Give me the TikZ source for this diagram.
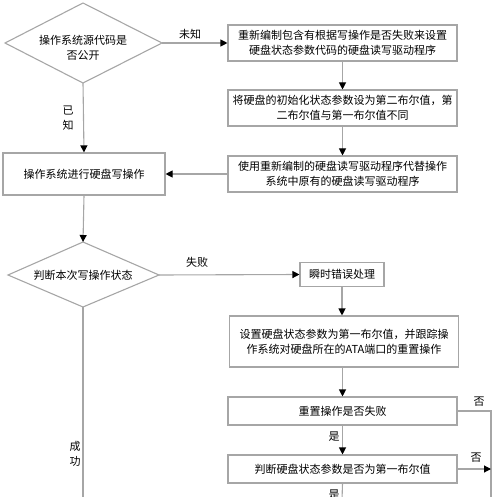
\documentclass[tikz,border=0pt]{standalone}
\usepackage{fontspec}
\newfontfamily\cjk{Noto Sans CJK SC}
\usetikzlibrary{arrows.meta,shapes.geometric}
\definecolor{ln}{HTML}{A6A6A6}
\tikzset{
  pbox/.style={draw=ln,line width=1.1pt,fill=white,inner sep=0pt,align=center,font=\cjk\fontsize{11pt}{15pt}\selectfont,text=black},
  lab/.style={font=\cjk\fontsize{11pt}{14.5pt}\selectfont,text=black,align=center,inner sep=0pt},
  conn/.style={draw=ln,line width=1.1pt},
  arr/.style={conn,-{Triangle[length=7pt,width=7pt,color=black]}}
}
\begin{document}
\begin{tikzpicture}[x=1pt,y=-1pt]
\useasboundingbox (0,0) rectangle (500,497);
\clip (0,0) rectangle (500,497);
% diamond 1
\draw[conn] (5,43) -- (83,3) -- (162,43) -- (83,83) -- cycle;
\node[lab] (d1) at (83,48) {操作系统源代码是\\否公开};
\coordinate (d1r) at (162,43);
\coordinate (d1b) at (83,83);
% right column boxes
\node[pbox,minimum width=229pt,minimum height=36pt] (b1) at (342.5,43) {重新编制包含有根据写操作是否失败来设置\\硬盘状态参数代码的硬盘读写驱动程序};
\node[pbox,minimum width=229pt,minimum height=36pt] (b2) at (342.5,108) {将硬盘的初始化状态参数设为第二布尔值，第\\二布尔值与第一布尔值不同};
\node[pbox,minimum width=229pt,minimum height=36pt] (b3) at (342.5,174) {使用重新编制的硬盘读写驱动程序代替操作\\系统中原有的硬盘读写驱动程序};
\node[pbox,minimum width=162pt,minimum height=42pt] (w) at (84,174) {操作系统进行硬盘写操作};
% diamond 2
\draw[conn] (8,275) -- (83,242) -- (159,275) -- (83,307) -- cycle;
\node[lab] (d2) at (83,275) {判断本次写操作状态};
\coordinate (d2t) at (83,242);
\coordinate (d2r) at (159,275);
\coordinate (d2b) at (83,307);
\node[pbox,minimum width=84pt,minimum height=24pt] (e) at (342,274.5) {瞬时错误处理};
\node[pbox,minimum width=229pt,minimum height=51pt] (s) at (344,341.5) {设置硬盘状态参数为第一布尔值，并跟踪操\\作系统对硬盘所在的ATA端口的重置操作};
\node[pbox,minimum width=229pt,minimum height=28pt] (r) at (342.5,411) {重置操作是否失败};
\node[pbox,minimum width=229pt,minimum height=28pt] (j) at (342.5,469) {判断硬盘状态参数是否为第一布尔值};
\coordinate (vr) at (491,411);
\coordinate (vj) at (491,469);
\coordinate (vbot) at (491,500);
\coordinate (jbot) at (342,500);
\coordinate (lbot) at (83,500);
% connectors
\draw[arr] (d1r) -- (b1.west);
\node[lab] (l1) at (190,34) {未知};
\draw[arr] (b1.south) -- (b2.north);
\draw[arr] (b2.south) -- (b3.north);
\draw[arr] (b3.west) -- (w.east);
\draw[arr] (d1b) -- (w.north);
\node[lab] (l2) at (68,118) {已\\知};
\draw[arr] (w.south) -- (d2t);
\draw[arr] (d2r) -- (e.west);
\node[lab] (l3) at (197,262) {失败};
\draw[arr] (e.south) -- (s.north-|e.south);
\draw[arr] (s.south-|r.north) -- (r.north);
\draw[arr] (r.south) -- (j.north);
\node[lab] (l4) at (334,437) {是};
\draw[conn] (r.east) -- (vr) -- (vbot);
\node[lab] (l5) at (479,402) {否};
\draw[arr] (j.east) -- (vj);
\node[lab] (l6) at (476,458) {否};
\draw[conn] (j.south) -- (jbot);
\node[lab] (l7) at (334,495) {是};
\draw[conn] (d2b) -- (lbot);
\node[lab] (l8) at (75,454) {成\\功};
\end{tikzpicture}
\end{document}
